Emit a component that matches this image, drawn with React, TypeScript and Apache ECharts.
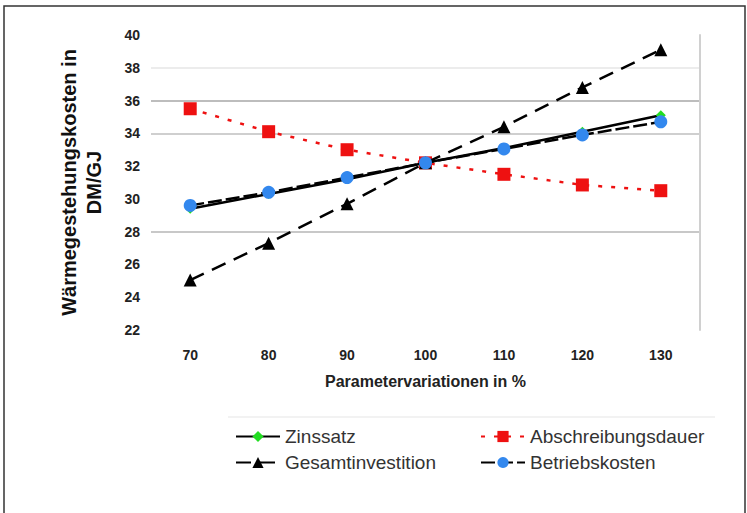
import React, { useEffect, useRef } from "react";
import * as echarts from "echarts";

const categories = ["70", "80", "90", "100", "110", "120", "130"];
const zinssatz = [29.4, 30.3, 31.2, 32.2, 33.1, 34.1, 35.1];
const abschreibungsdauer = [35.5, 34.1, 33.0, 32.2, 31.5, 30.85, 30.5];
const gesamtinvestition = [25.05, 27.3, 29.7, 32.2, 34.4, 36.8, 39.1];
const betriebskosten = [29.6, 30.4, 31.3, 32.2, 33.05, 33.9, 34.7];

const FONT = "Liberation Sans, Arial, sans-serif";

export default function App() {
  const ref = useRef<HTMLDivElement>(null);
  useEffect(() => {
    if (!ref.current) return;
    const chart = echarts.init(ref.current, undefined, { renderer: "svg" });
    const gridColors = [
      "rgba(0,0,0,0)",
      "rgba(0,0,0,0)",
      "rgba(0,0,0,0)",
      "#c8c8c8",
      "rgba(0,0,0,0)",
      "rgba(0,0,0,0)",
      "#cfcfcf",
      "#bdbdbd",
      "#ececec",
      "rgba(0,0,0,0)",
    ];
    chart.setOption({
      animation: false,
      backgroundColor: "#ffffff",
      textStyle: { fontFamily: FONT },
      grid: { left: 151, right: 47, top: 35, bottom: 183 },
      graphic: [
        {
          type: "rect",
          shape: { x: 4, y: 6, width: 741, height: 510 },
          style: { fill: "none", stroke: "#333", lineWidth: 1.5 },
          silent: true,
        },
        {
          type: "line",
          shape: { x1: 228, y1: 417, x2: 715, y2: 417 },
          style: { stroke: "#eeeeee", lineWidth: 1.5 },
          silent: true,
        },
      ],
      xAxis: {
        type: "category",
        data: categories,
        boundaryGap: true,
        axisLine: { show: false },
        axisTick: { show: false },
        axisLabel: {
          margin: 18,
          fontSize: 14,
          fontWeight: "bold",
          color: "#222",
          fontFamily: FONT,
        },
        name: "Parametervariationen in %",
        nameLocation: "middle",
        nameGap: 43,
        nameTextStyle: {
          fontSize: 16,
          fontWeight: "bold",
          color: "#222",
          fontFamily: FONT,
        },
      },
      yAxis: [
        {
          type: "value",
          min: 22,
          max: 40,
          interval: 2,
          axisLine: { show: false },
          axisTick: { show: false },
          axisLabel: {
            margin: 11,
            fontSize: 14,
            fontWeight: "bold",
            color: "#222",
            fontFamily: FONT,
          },
          splitLine: { show: true, lineStyle: { color: gridColors, width: 2 } },
          name: "Wärmegestehungskosten in\nDM/GJ",
          nameLocation: "middle",
          nameGap: 45,
          nameRotate: 90,
          nameTextStyle: {
            fontSize: 20,
            fontWeight: "bold",
            color: "#111",
            lineHeight: 25,
            fontFamily: FONT,
          },
        },
        {
          type: "value",
          min: 22,
          max: 40,
          interval: 2,
          position: "right",
          axisLine: { show: true, lineStyle: { color: "#d0d0d0", width: 2 } },
          axisTick: { show: false },
          axisLabel: { show: false },
          splitLine: { show: false },
        },
      ],
      legend: [
        {
          orient: "vertical",
          left: 230,
          top: 422,
          itemWidth: 44,
          itemHeight: 14,
          itemGap: 7,
          data: ["Zinssatz", "Gesamtinvestition"],
          textStyle: { fontSize: 19, color: "#333", fontFamily: FONT },
        },
        {
          orient: "vertical",
          left: 475,
          top: 422,
          itemWidth: 44,
          itemHeight: 14,
          itemGap: 7,
          data: ["Abschreibungsdauer", "Betriebskosten"],
          textStyle: { fontSize: 19, color: "#333", fontFamily: FONT },
        },
      ],
      series: [
        {
          name: "Zinssatz",
          type: "line",
          data: zinssatz,
          symbol: "diamond",
          symbolSize: 10,
          itemStyle: { color: "#22dd22" },
          lineStyle: { color: "#000", width: 2.5, type: "solid" },
          z: 3,
        },
        {
          name: "Abschreibungsdauer",
          type: "line",
          data: abschreibungsdauer,
          symbol: "rect",
          symbolSize: 13,
          itemStyle: { color: "#ee1111" },
          lineStyle: { color: "#ee1111", width: 2.5, type: [4, 9] },
          z: 2,
        },
        {
          name: "Gesamtinvestition",
          type: "line",
          data: gesamtinvestition,
          symbol: "triangle",
          symbolSize: 13,
          itemStyle: { color: "#000" },
          lineStyle: { color: "#000", width: 2.5, type: [15, 9] },
          z: 4,
        },
        {
          name: "Betriebskosten",
          type: "line",
          data: betriebskosten,
          symbol: "circle",
          symbolSize: 13,
          itemStyle: { color: "#3388ee" },
          lineStyle: { color: "#000", width: 2.5, type: [14, 4] },
          z: 5,
        },
      ],
    });
    return () => chart.dispose();
  }, []);
  return (
    <div
      ref={ref}
      style={{ position: "fixed", left: 0, top: 0, width: 747, height: 513 }}
    />
  );
}
